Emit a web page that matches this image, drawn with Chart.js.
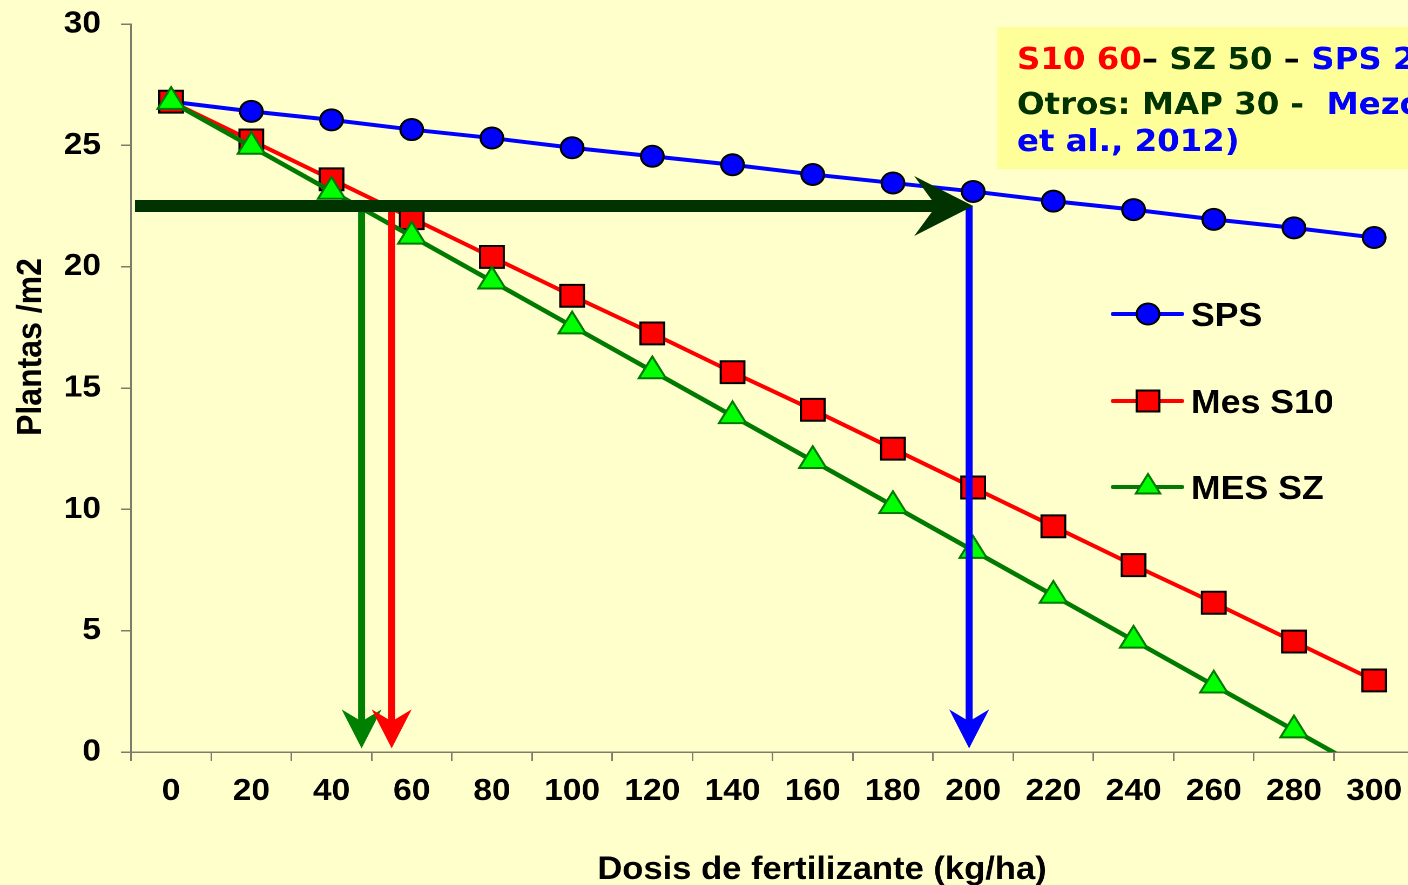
<!DOCTYPE html>
<html>
<head>
<meta charset="utf-8">
<script src="https://cdn.jsdelivr.net/npm/chart.js@4"></script>
<style>
  html, body { margin: 0; padding: 0; background: #FFFFCC; overflow: hidden; width: 1408px; height: 885px; }
  #wrap { position: absolute; left: 0; top: 0; width: 1327px; height: 885px; transform: scaleX(1.08); transform-origin: 0 0; }
</style>
</head>
<body>
<div id="wrap"><canvas id="c" width="1327" height="885"></canvas></div>
<script>
// Dosis de fertilizante (kg/ha)
const doses = ['0', '20', '40', '60', '80', '100', '120', '140', '160', '180', '200', '220', '240', '260', '280', '300'];

// Plantas por m2 para cada producto
const sps    = [26.8, 26.4, 26.05, 25.65, 25.3, 24.9, 24.55, 24.2, 23.8, 23.45, 23.1, 22.7, 22.35, 21.95, 21.6, 21.2];
const mesS10 = [26.8, 25.2, 23.6, 22.0, 20.4, 18.8, 17.25, 15.65, 14.1, 12.5, 10.9, 9.3, 7.7, 6.15, 4.55, 2.95];
const mesSZ  = [26.8, 24.95, 23.1, 21.25, 19.4, 17.55, 15.7, 13.85, 12.0, 10.15, 8.3, 6.45, 4.6, 2.75, 0.9, -0.95];

const seriesNames = ['SPS', 'Mes S10', 'MES SZ'];

// Densidad de referencia y dosis donde cada curva la alcanza
const refPlants = 22.5;
const refDoseEnd = 200;
const doseSZ = 47.5;
const doseS10 = 55;
const doseSPS = 199;

// Nota del recuadro superior
const noteLine1 = [['S10 60', '#FF0000'], ['\u2013 ', '#000000'], ['SZ 50 ', '#003300'], ['\u2013 ', '#000000'], ['SPS 200', '#0000FF']];
const noteLine2 = [['Otros: MAP 30 - ', '#003300'], [' Mezcla', '#0000FF']];
const noteLine3 = [['et al., 2012)', '#0000FF']];

const xTitle = 'Dosis de fertilizante (kg/ha)';
const yTitle = 'Plantas /m2';

// The canvas is widened by this factor with CSS; horizontal sizes are divided by it.
const SX = 1.08;
const fx = v => v / SX;

const BLUE = '#0000FF', RED = '#FF0000', GREEN_LINE = '#007A00', GREEN_FILL = '#00FF00', DARK = '#003300';
const AXIS = '#7C7C6A';
const LABEL_FONT = '"Liberation Sans", Arial, sans-serif';

function arrowDown(ctx, x, yTop, yTip, color) {
  const shaft = fx(7), half = fx(20), len = 39, notch = 27;
  ctx.fillStyle = color;
  ctx.fillRect(x - shaft / 2, yTop, shaft, (yTip - notch + 2) - yTop);
  ctx.beginPath();
  ctx.moveTo(x, yTip);
  ctx.lineTo(x - half, yTip - len);
  ctx.lineTo(x, yTip - notch);
  ctx.lineTo(x + half, yTip - len);
  ctx.closePath();
  ctx.fill();
}

function arrowRight(ctx, xStart, y, xTip, color) {
  const shaft = 12, half = 30, len = fx(59), notch = fx(37);
  ctx.fillStyle = color;
  ctx.fillRect(xStart, y - shaft / 2, (xTip - notch + 2) - xStart, shaft);
  ctx.beginPath();
  ctx.moveTo(xTip, y);
  ctx.lineTo(xTip - len, y - half);
  ctx.lineTo(xTip - notch, y);
  ctx.lineTo(xTip - len, y + half);
  ctx.closePath();
  ctx.fill();
}

function drawSegments(ctx, x, y, segs) {
  let cx = x;
  for (const [txt, col] of segs) {
    ctx.fillStyle = col;
    ctx.fillText(txt, cx, y);
    cx += ctx.measureText(txt).width;
  }
}

function legendMarker(ctx, kind, x, y) {
  ctx.lineWidth = 2;
  ctx.beginPath();
  if (kind === 0) {
    ctx.ellipse(x, y, 10.5, 10.5, 0, 0, Math.PI * 2);
    ctx.fillStyle = BLUE; ctx.strokeStyle = '#000';
  } else if (kind === 1) {
    ctx.rect(x - 10.5, y - 10.5, 21, 21);
    ctx.fillStyle = RED; ctx.strokeStyle = '#000';
  } else {
    const r = 13;
    ctx.moveTo(x, y - r);
    ctx.lineTo(x + r * Math.sin(2 * Math.PI / 3), y + r / 2);
    ctx.lineTo(x - r * Math.sin(2 * Math.PI / 3), y + r / 2);
    ctx.closePath();
    ctx.fillStyle = GREEN_FILL; ctx.strokeStyle = GREEN_LINE;
  }
  ctx.fill();
  ctx.stroke();
}

const annotations = {
  id: 'annotations',
  afterDatasetsDraw(chart) {
    const { ctx, scales: { x, y } } = chart;
    const px = d => x.getPixelForValue(d / 20);
    const yRef = y.getPixelForValue(refPlants);
    const yTip = y.getPixelForValue(0.15);
    ctx.save();
    arrowDown(ctx, px(doseSZ), yRef, yTip, '#008000');
    arrowDown(ctx, px(doseS10), yRef, yTip, RED);
    arrowDown(ctx, px(doseSPS), yRef, yTip, BLUE);
    arrowRight(ctx, chart.chartArea.left + fx(4), yRef, px(refDoseEnd), DARK);
    ctx.restore();
  },
  afterDraw(chart) {
    const { ctx } = chart;
    ctx.save();

    // recuadro de texto
    ctx.fillStyle = '#FFFF99';
    ctx.fillRect(fx(997), 27, 1400, 142);
    ctx.font = 'bold 30px "DejaVu Sans", Verdana, sans-serif';
    ctx.textAlign = 'left';
    ctx.textBaseline = 'alphabetic';
    drawSegments(ctx, fx(1017), 69, noteLine1);
    drawSegments(ctx, fx(1017), 114, noteLine2);
    drawSegments(ctx, fx(1017), 151, noteLine3);

    // leyenda
    const rows = [314, 401, 487];
    const lineCols = [BLUE, RED, GREEN_LINE];
    ctx.font = 'bold 33px ' + LABEL_FONT;
    rows.forEach((ry, i) => {
      ctx.strokeStyle = lineCols[i];
      ctx.lineWidth = 4;
      ctx.lineCap = 'round';
      ctx.beginPath();
      ctx.moveTo(fx(1113), ry);
      ctx.lineTo(fx(1182), ry);
      ctx.stroke();
      ctx.lineCap = 'butt';
      legendMarker(ctx, i, fx(1148), ry);
      ctx.fillStyle = '#000';
      ctx.fillText(seriesNames[i], fx(1191), ry + 12);
    });

    // títulos de los ejes
    ctx.font = 'bold 32px ' + LABEL_FONT;
    ctx.fillStyle = '#000';
    ctx.textAlign = 'center';
    ctx.fillText(xTitle, fx(822), 879);
    ctx.translate(fx(41), 347);
    ctx.rotate(-Math.PI / 2);
    ctx.fillText(yTitle, 0, 0);
    ctx.restore();
  }
};

new Chart(document.getElementById('c'), {
  type: 'line',
  data: {
    labels: doses,
    datasets: [
      { label: seriesNames[0], data: sps, order: 3, borderColor: BLUE, borderWidth: 4,
        pointStyle: 'circle', pointRadius: 10.5, pointBackgroundColor: BLUE, pointBorderColor: '#000', pointBorderWidth: 2 },
      { label: seriesNames[1], data: mesS10, order: 2, borderColor: RED, borderWidth: 4,
        pointStyle: 'rect', pointRadius: 15.5, pointBackgroundColor: RED, pointBorderColor: '#000', pointBorderWidth: 2 },
      { label: seriesNames[2], data: mesSZ, order: 1, borderColor: GREEN_LINE, borderWidth: 4.5,
        pointStyle: 'triangle', pointRadius: 14.5, pointBackgroundColor: GREEN_FILL, pointBorderColor: GREEN_LINE, pointBorderWidth: 2 }
    ]
  },
  options: {
    responsive: false,
    animation: false,
    devicePixelRatio: 2,
    layout: { padding: { left: 0, right: 3.5, top: 24, bottom: 0 } },
    plugins: { legend: { display: false }, tooltip: { enabled: false }, title: { display: false } },
    elements: { line: { tension: 0 } },
    scales: {
      x: {
        type: 'category',
        offset: true,
        afterFit: s => { s.height = 133; },
        grid: { offset: true, drawOnChartArea: false, drawTicks: true, tickLength: 9, color: AXIS, lineWidth: 1.5 },
        border: { display: true, color: AXIS, width: 1.5 },
        ticks: { color: '#000', padding: 12, maxRotation: 0, autoSkip: false, font: { family: LABEL_FONT, size: 31, weight: 'bold' } }
      },
      y: {
        min: 0,
        max: 30,
        afterFit: s => { s.width = 121.3; s.paddingTop = 0; s.paddingBottom = 0; },
        grid: { drawOnChartArea: false, drawTicks: true, tickLength: 9.26, color: AXIS, lineWidth: 1.5 },
        border: { display: true, color: AXIS, width: 1.5 },
        ticks: { stepSize: 5, color: '#000', padding: 18.5, font: { family: LABEL_FONT, size: 31, weight: 'bold' } }
      }
    }
  },
  plugins: [annotations]
});
</script>
</body>
</html>
